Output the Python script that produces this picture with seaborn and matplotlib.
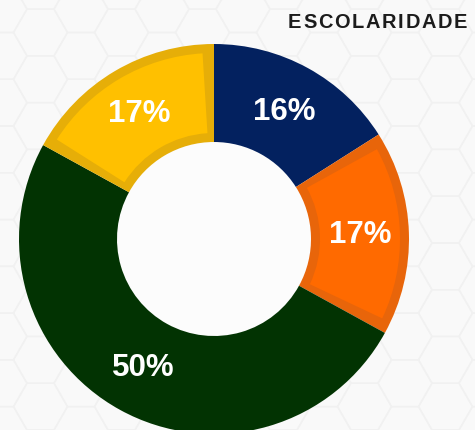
import matplotlib
matplotlib.use("Agg")
import numpy as np
import matplotlib.pyplot as plt
from matplotlib.patches import Wedge, RegularPolygon
import seaborn as sns

# data
categories = ["Fundamental", "Médio", "Superior", "Pós-graduação"]
shares = [16, 17, 50, 17]
slice_colors = ["#03215F", "#FF6A00", "#023302", "#FFC000"]
bevel_colors = [None, "#E8650A", None, "#E6AE08"]
title = "ESCOLARIDADE"

sns.set_style("white")
plt.rcParams["font.family"] = ["Liberation Sans", "DejaVu Sans"]

W, H = 475, 431
bg = "#F9F9F9"
fig = plt.figure(figsize=(W / 100, H / 100), dpi=100)
fig.patch.set_facecolor(bg)
ax = fig.add_axes([0, 0, 1, 1])
ax.set_facecolor(bg)

# faint hexagon texture in the background
hr = 27
for i in range(-1, 13):
    for j in range(-1, 11):
        hx = i * 1.5 * hr
        hy = j * np.sqrt(3) * hr + (i % 2) * np.sqrt(3) * hr / 2
        ax.add_patch(RegularPolygon((hx, hy), 6, radius=hr, orientation=np.pi / 6,
                                    facecolor="none", edgecolor="#F1F1F1", linewidth=1.0, zorder=0))

cx, cy = 214, H - 240
R, hole = 195, 97
ring = R - hole

# the white hole
ax.add_patch(plt.Circle((cx, cy), hole, color="#FCFCFC", zorder=1))

wedges, texts, autotexts = ax.pie(
    shares, colors=slice_colors, startangle=90, counterclock=False,
    center=(cx, cy), radius=R, autopct="%.0f%%", pctdistance=0.75,
    wedgeprops=dict(width=ring, linewidth=0), frame=True,
    textprops=dict(color="white", fontsize=22.5, fontweight="bold"),
)
ax.set_xlim(0, W)
ax.set_ylim(0, H)
ax.set_aspect("equal")
ax.axis("off")

# bevel frame on orange / yellow slices: darker border, lighter inner panel
inset = 9
for w, bc, fc in zip(wedges, bevel_colors, slice_colors):
    w.set_zorder(2)
    if bc is None:
        continue
    w.set_facecolor(bc)
    r_mid = R - ring / 2
    dtheta = np.degrees(inset / r_mid)
    inner = Wedge((cx, cy), R - inset, w.theta1 + dtheta, w.theta2 - dtheta,
                  width=ring - 2 * inset, facecolor=fc, linewidth=0, zorder=3)
    ax.add_patch(inner)
for t in autotexts:
    t.set_zorder(5)

# title with letter spacing
renderer = fig.canvas.get_renderer()
tkw = dict(fontsize=14.4, fontweight="bold", color="#1C1C1C", va="baseline", ha="left")
probe = ax.text(0, 0, "", **tkw)
x0, spacing = 288, 1.7
for k, ch in enumerate(title):
    probe.set_text(title[:k] if k else "")
    prefix_w = probe.get_window_extent(renderer).width if k else 0
    ax.text(x0 + prefix_w + k * spacing, H - 28, ch, **tkw)
probe.remove()

fig.savefig("out.png", dpi=100, facecolor=fig.get_facecolor())
